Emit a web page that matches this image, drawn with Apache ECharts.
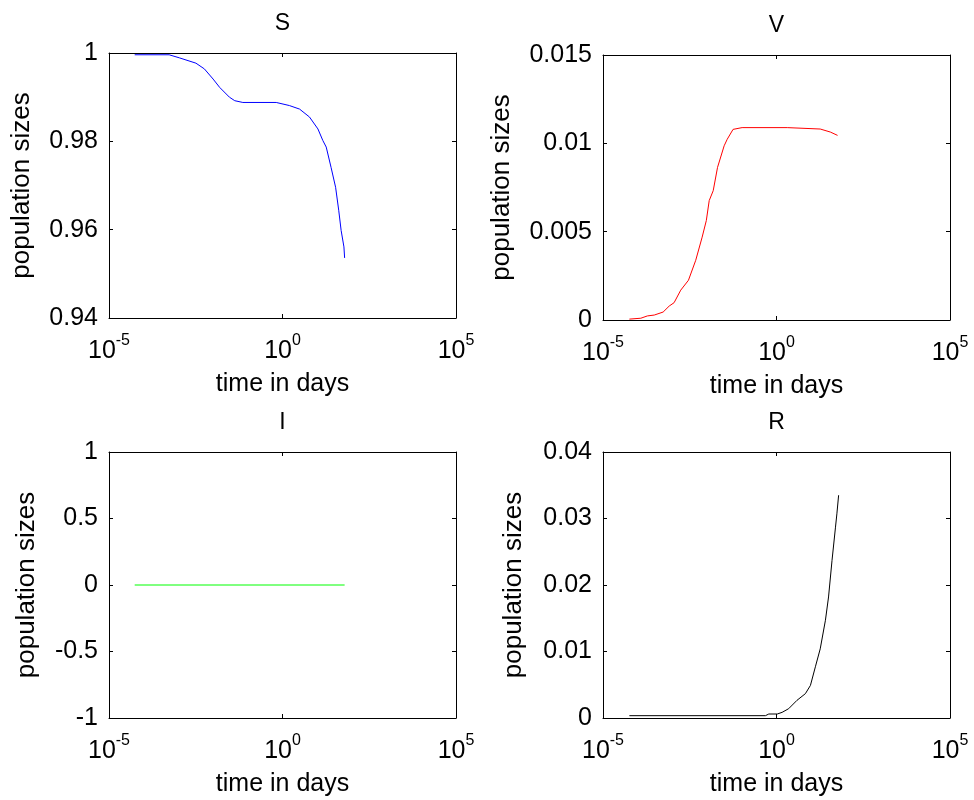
<!DOCTYPE html>
<html><head><meta charset="utf-8">
<script src="https://cdn.jsdelivr.net/npm/echarts@6/dist/echarts.min.js"></script>
<style>html,body{margin:0;padding:0;background:#fff}#c{width:974px;height:800px}</style>
</head><body><div id="c"></div>
<script>
// ---- data (time in days, population sizes) ----
const sTime = [5.5e-5, 5.4e-4, 1.07e-3, 3.2e-3, 5.6e-3, 1.0e-2, 1.55e-2, 2.95e-2, 4.2e-2, 7.2e-2, 0.66, 1.58, 3.1, 6.0, 10.5, 14.5, 18.2, 25.1, 33.9, 41.7, 49, 58.9, 61.7];
const sVal  = [0.9996, 0.9996, 0.9989, 0.9977, 0.9964, 0.9941, 0.9922, 0.9900, 0.9892, 0.9888, 0.9888, 0.9881, 0.9873, 0.9855, 0.9828, 0.9802, 0.9787, 0.9741, 0.9696, 0.9644, 0.9598, 0.9561, 0.9536];

const vTime = [5.75e-5, 1.23e-4, 1.9e-4, 3.0e-4, 5.4e-4, 8.1e-4, 1.12e-3, 1.74e-3, 2.9e-3, 4.7e-3, 7.2e-3, 9.5e-3, 1.15e-2, 1.5e-2, 2.0e-2, 3.1e-2, 3.8e-2, 5.6e-2, 0.102, 2.04, 18.2, 35.5, 57.5];
const vVal  = [0.00005, 0.0001, 0.00023, 0.00028, 0.00045, 0.00079, 0.00098, 0.00169, 0.00225, 0.00338, 0.00469, 0.00563, 0.00676, 0.00732, 0.00864, 0.00986, 0.01023, 0.01079, 0.01089, 0.01089, 0.01081, 0.01064, 0.01045];

const iTime = [5.5e-5, 61.7];
const iVal  = [0, 0];

const rTime = [5.75e-5, 0.48, 0.6, 1.05, 1.45, 2.24, 3.9, 6.8, 9.5, 13.2, 18.2, 25.7, 31.6, 39.8, 50.1, 55, 61.7];
const rVal  = [0.00035, 0.00035, 0.0006, 0.0006, 0.00085, 0.0014, 0.00266, 0.00366, 0.0049, 0.0077, 0.0104, 0.0147, 0.0182, 0.0237, 0.0287, 0.0307, 0.0335];

const titles = ['S', 'V', 'I', 'R'];
const xTickValues = [1e-5, 1, 1e5];
const yMins = [0.94, 0, -1, 0];
const yMaxs = [1, 0.015, 1, 0.04];
const yIntervals = [0.02, 0.005, 0.5, 0.01];
const xName = 'time in days';
const yName = 'population sizes';

// ---- layout / style ----
const FONT = '"Liberation Sans", Arial, Helvetica, sans-serif';
const FS = 25;
const colors = ['#0000ff', '#ff0000', '#00ff00', '#000000'];
const grids = [
  {left: 109, top: 53, width: 347, height: 265},
  {left: 603, top: 55, width: 347, height: 265},
  {left: 109, top: 452, width: 347, height: 266},
  {left: 603, top: 452, width: 347, height: 266}
];
const yNameGaps = [74, 88, 69, 76];
const series = [[sTime, sVal], [vTime, vVal], [iTime, iVal], [rTime, rVal]];

const option = {
  backgroundColor: '#ffffff',
  animation: false,
  title: [], grid: [], xAxis: [], yAxis: [], series: []
};

const lineStyle = {color: '#000', width: 1};

grids.forEach((g, i) => {
  option.grid.push(Object.assign({containLabel: false}, g));
  option.title.push({
    text: titles[i], left: g.left + g.width / 2, top: g.top - 41, textAlign: 'center', padding: 0,
    textStyle: {fontFamily: FONT, fontSize: 23, fontWeight: 'normal', color: '#000'}
  });
  const xBase = {
    type: 'log', logBase: 10, gridIndex: i, min: 1e-5, max: 1e5, interval: 5,
    splitLine: {show: false}, minorTick: {show: false},
    axisLine: {show: true, lineStyle: lineStyle, onZero: false}
  };
  option.xAxis.push(Object.assign({}, xBase, {
    position: 'bottom',
    name: xName, nameLocation: 'middle', nameGap: 54,
    nameTextStyle: {fontFamily: FONT, fontSize: FS, color: '#000'},
    axisTick: {show: true, inside: true, length: 4, lineStyle: lineStyle, customValues: xTickValues},
    axisLabel: {
      show: true, margin: 15, color: '#000', showMinLabel: true, showMaxLabel: true,
      customValues: xTickValues,
      formatter: v => '{b|10}{s|' + Math.round(Math.log10(v)) + '}',
      rich: {
        b: {fontFamily: FONT, fontSize: FS, lineHeight: 36, color: '#000'},
        s: {fontFamily: FONT, fontSize: 16, lineHeight: 8, verticalAlign: 'top', color: '#000'}
      }
    }
  }));
  option.xAxis.push(Object.assign({}, xBase, {
    position: 'top',
    axisTick: {show: true, inside: true, length: 4, lineStyle: lineStyle, customValues: xTickValues},
    axisLabel: {show: false}
  }));
  const yBase = {
    type: 'value', gridIndex: i, min: yMins[i], max: yMaxs[i], interval: yIntervals[i],
    splitLine: {show: false},
    axisLine: {show: true, lineStyle: lineStyle, onZero: false},
    axisTick: {show: true, inside: true, length: 4, lineStyle: lineStyle}
  };
  option.yAxis.push(Object.assign({}, yBase, {
    position: 'left',
    name: yName, nameLocation: 'middle', nameGap: yNameGaps[i],
    nameTextStyle: {fontFamily: FONT, fontSize: 26, color: '#000'},
    axisLabel: {
      show: true, margin: 11, color: '#000', fontFamily: FONT, fontSize: FS,
      showMinLabel: true, showMaxLabel: true,
      formatter: v => String(parseFloat(v.toFixed(6)))
    }
  }));
  option.yAxis.push(Object.assign({}, yBase, {
    position: 'right', axisLabel: {show: false}
  }));
  const [ts, vs] = series[i];
  option.series.push({
    type: 'line', name: titles[i], xAxisIndex: i * 2, yAxisIndex: i * 2,
    data: ts.map((t, k) => [t, vs[k]]),
    showSymbol: false, symbol: 'none',
    lineStyle: {color: colors[i], width: 1},
    itemStyle: {color: colors[i]}
  });
});

const chart = echarts.init(document.getElementById('c'), null, {renderer: 'canvas'});
chart.setOption(option);
</script>
</body></html>
